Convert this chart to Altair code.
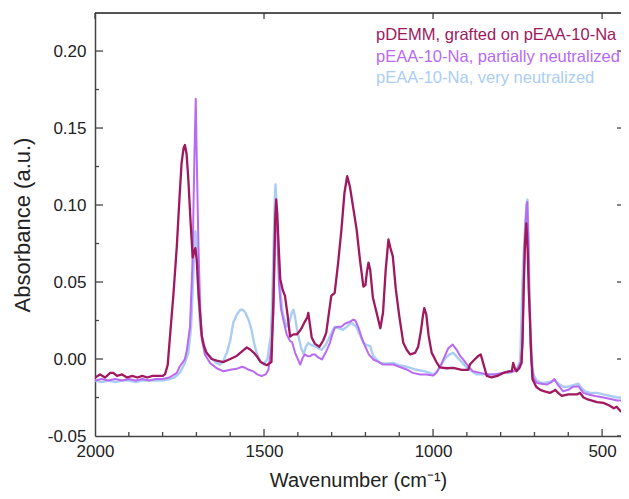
import altair as alt
import pandas as pd

# ---- data ----
dark_wn = [2000, 1985, 1970, 1955, 1946, 1935, 1920, 1905, 1890, 1875, 1860, 1845, 1830, 1815, 1800,
           1793, 1785, 1778, 1768, 1758, 1750, 1744, 1738, 1734, 1729, 1724, 1717, 1711, 1706, 1703,
           1699, 1693, 1684, 1677, 1670, 1655, 1640, 1621, 1600, 1581, 1565, 1551, 1540, 1530, 1522,
           1510, 1492, 1478, 1472, 1467, 1464, 1461, 1456, 1452, 1445, 1438, 1430, 1423, 1413, 1403,
           1395, 1389, 1380, 1372, 1369, 1364, 1359, 1350, 1336, 1325, 1316, 1308, 1301, 1291, 1281,
           1271, 1262, 1254, 1246, 1236, 1226, 1216, 1206, 1200, 1196, 1191, 1186, 1178, 1167, 1156,
           1148, 1140, 1132, 1126, 1119, 1110, 1100, 1088, 1078, 1068, 1053, 1044, 1036, 1030, 1026,
           1020, 1013, 1004, 999, 990, 980, 960, 940, 915, 896, 891, 880, 866, 859, 850, 841, 827,
           810, 792, 775, 767, 763, 758, 753, 745, 738, 735, 732, 728, 724, 720, 717, 714, 710, 706,
           695, 683, 670, 654, 645, 639, 630, 619, 600, 585, 575, 565, 555, 545, 530, 515, 496, 480,
           465, 457, 445, 435, 427, 420]
dark_abs = [-0.012, -0.010, -0.012, -0.009, -0.009, -0.011, -0.010, -0.012, -0.011, -0.012, -0.011,
            -0.012, -0.011, -0.011, -0.011, -0.010, -0.004, 0.015, 0.042, 0.073, 0.105, 0.127, 0.137,
            0.139, 0.133, 0.117, 0.088, 0.066, 0.070, 0.072, 0.064, 0.040, 0.015, 0.008, 0.004, 0.000,
            -0.001, -0.002, 0.000, 0.002, 0.005, 0.0075, 0.006, 0.004, 0.002, -0.002, -0.004, -0.002,
            0.040, 0.090, 0.1036, 0.095, 0.070, 0.052, 0.045, 0.041, 0.028, 0.0146, 0.016, 0.016,
            0.018, 0.020, 0.024, 0.027, 0.030, 0.022, 0.014, 0.010, 0.008, 0.012, 0.017, 0.030, 0.041,
            0.043, 0.062, 0.084, 0.108, 0.1187, 0.112, 0.098, 0.084, 0.064, 0.047, 0.048, 0.056,
            0.0626, 0.058, 0.040, 0.030, 0.020, 0.030, 0.058, 0.0776, 0.072, 0.0667, 0.045, 0.028,
            0.0105, 0.006, 0.003, 0.004, 0.008, 0.018, 0.028, 0.033, 0.029, 0.015, 0.004, 0.002,
            -0.002, -0.0055, -0.006, -0.0057, -0.007, -0.007, -0.0036, -0.001, 0.002, 0.003, -0.004,
            -0.011, -0.012, -0.011, -0.009, -0.008, -0.008, -0.0025, -0.006, -0.008, -0.006, -0.0025,
            0.015, 0.043, 0.075, 0.088, 0.070, 0.045, 0.030, 0.005, -0.013, -0.018, -0.020, -0.021,
            -0.022, -0.021, -0.020, -0.022, -0.024, -0.023, -0.023, -0.023, -0.022, -0.025, -0.026,
            -0.027, -0.028, -0.0285, -0.030, -0.032, -0.031, -0.034, -0.032, -0.033, -0.034]

purple_wn = [2000, 1980, 1960, 1940, 1920, 1900, 1880, 1860, 1840, 1820, 1800, 1780, 1765, 1758,
             1749, 1740, 1734, 1728, 1719, 1712, 1706, 1702, 1699, 1694, 1689, 1684, 1675, 1660,
             1640, 1620, 1600, 1581, 1565, 1556, 1545, 1532, 1520, 1507, 1495, 1487, 1478, 1472,
             1468, 1465, 1461, 1456, 1450, 1443, 1433, 1423, 1417, 1408, 1393, 1385, 1379, 1372,
             1364, 1356, 1349, 1340, 1329, 1318, 1305, 1298, 1291, 1281, 1271, 1260, 1248, 1236,
             1230, 1220, 1210, 1201, 1190, 1177, 1160, 1148, 1130, 1118, 1100, 1078, 1060, 1038,
             1020, 999, 990, 976, 965, 955, 942, 930, 920, 911, 895, 882, 860, 841, 820, 792, 775,
             763, 750, 740, 735, 732, 727, 723, 721, 718, 715, 712, 709, 703, 694, 680, 664, 650,
             641, 630, 615, 600, 585, 570, 562, 555, 540, 520, 496, 475, 455, 440, 427, 420]
purple_abs = [-0.014, -0.013, -0.014, -0.013, -0.014, -0.013, -0.014, -0.013, -0.014, -0.013,
              -0.013, -0.012, -0.010, -0.009, -0.0047, -0.002, 0.000, 0.006, 0.021, 0.060, 0.130,
              0.169, 0.130, 0.073, 0.035, 0.0127, 0.003, -0.0025, -0.006, -0.008, -0.007, -0.0064,
              -0.005, -0.0057, -0.007, -0.008, -0.010, -0.011, -0.010, -0.007, 0.008, 0.030, 0.075,
              0.100, 0.085, 0.050, 0.033, 0.0256, 0.016, 0.0116, 0.011, 0.004, -0.0036, 0.001, 0.003,
              0.002, 0.0018, 0.003, 0.003, 0.001, -0.0003, 0.004, 0.0105, 0.016, 0.020, 0.021, 0.021,
              0.023, 0.024, 0.0256, 0.025, 0.020, 0.013, 0.0083, 0.003, -0.0003, -0.002, -0.0036,
              -0.0035, -0.0036, -0.005, -0.0068, -0.009, -0.010, -0.010, -0.0107, -0.009, -0.0036,
              0.002, 0.007, 0.0094, 0.006, 0.002, -0.0003, -0.005, -0.008, -0.009, -0.010, -0.010,
              -0.009, -0.008, -0.008, -0.006, -0.002, 0.010, 0.052, 0.085, 0.100, 0.102, 0.075, 0.040,
              0.010, -0.0025, -0.012, -0.0155, -0.016, -0.0166, -0.015, -0.013, -0.017, -0.021,
              -0.020, -0.018, -0.0177, -0.020, -0.022, -0.023, -0.024, -0.025, -0.026, -0.027,
              -0.027, -0.028, -0.029]

blue_wn = [2000, 1980, 1960, 1940, 1920, 1900, 1880, 1860, 1840, 1820, 1800, 1780, 1765, 1749,
           1735, 1724, 1716, 1710, 1705, 1703, 1700, 1695, 1689, 1680, 1670, 1660, 1645, 1630, 1620,
           1610, 1600, 1591, 1580, 1570, 1563, 1555, 1545, 1537, 1530, 1522, 1512, 1502, 1490, 1480,
           1477, 1472, 1468, 1466, 1463, 1458, 1453, 1445, 1433, 1425, 1418, 1413, 1408, 1403, 1398,
           1390, 1383, 1376, 1369, 1360, 1349, 1340, 1329, 1318, 1305, 1298, 1291, 1280, 1266, 1255,
           1241, 1233, 1227, 1215, 1206, 1196, 1186, 1177, 1168, 1157, 1140, 1118, 1100, 1078, 1050,
           1024, 1010, 999, 988, 976, 965, 952, 940, 928, 915, 900, 885, 871, 850, 830, 810, 792,
           775, 760, 748, 742, 738, 734, 728, 724, 721, 718, 715, 711, 707, 703, 694, 685, 674, 660,
           650, 641, 630, 615, 600, 585, 570, 560, 550, 535, 515, 496, 475, 455, 440, 427, 420]
blue_abs = [-0.014, -0.015, -0.014, -0.015, -0.014, -0.014, -0.015, -0.014, -0.014, -0.014, -0.014,
            -0.013, -0.012, -0.009, -0.003, 0.004, 0.020, 0.050, 0.080, 0.083, 0.075, 0.045, 0.021,
            0.010, 0.004, 0.0018, -0.002, -0.0036, -0.001, 0.004, 0.012, 0.0235, 0.029, 0.032, 0.032,
            0.030, 0.025, 0.019, 0.011, 0.004, -0.001, -0.0036, 0.000, 0.015, 0.030, 0.070, 0.105,
            0.1133, 0.100, 0.070, 0.047, 0.030, 0.021, 0.024, 0.030, 0.032, 0.027, 0.020, 0.0148,
            0.007, 0.003, 0.008, 0.0105, 0.009, 0.0083, 0.007, 0.006, 0.009, 0.0148, 0.018, 0.021,
            0.020, 0.019, 0.021, 0.0235, 0.022, 0.021, 0.015, 0.0105, 0.009, 0.0083, 0.002, 0.000,
            -0.0025, -0.003, -0.0025, -0.004, -0.005, -0.007, -0.008, -0.009, -0.010, -0.008, -0.0036,
            0.000, 0.003, 0.004, 0.001, -0.002, -0.0057, -0.008, -0.010, -0.010, -0.010, -0.010,
            -0.009, -0.009, -0.008, -0.005, 0.000, 0.030, 0.060, 0.085, 0.100, 0.1035, 0.080, 0.045,
            0.015, -0.002, -0.010, -0.014, -0.015, -0.0155, -0.015, -0.0145, -0.0137, -0.016,
            -0.018, -0.018, -0.017, -0.016, -0.019, -0.021, -0.022, -0.022, -0.023, -0.024, -0.025,
            -0.025, -0.026, -0.027]

series_names = ["pDEMM, grafted on pEAA-10-Na",
                "pEAA-10-Na, partially neutralized",
                "pEAA-10-Na, very neutralized"]
series_colors = ["#a0185d", "#b86af2", "#aacdf4"]

x_major = [2000, 1500, 1000, 500]
x_minor = [1900, 1800, 1700, 1600, 1400, 1300, 1200, 1100, 900, 800, 700, 600]
y_major = [-0.05, 0.0, 0.05, 0.10, 0.15, 0.20]
y_minor = [-0.025, 0.025, 0.075, 0.125, 0.175]

# ---- layout / style ----
W, H = 526, 423
FONT = "Liberation Sans"
AXIS_COLOR = "#444444"
xscale = alt.Scale(domain=[2000, 444], nice=False, zero=False)
yscale = alt.Scale(domain=[-0.05, 0.2247], nice=False, zero=False)

x_axis = alt.Axis(values=x_major, format="d", ticks=False, grid=False, domain=True,
                  domainColor=AXIS_COLOR, domainWidth=1.5, labelFont=FONT, labelFontSize=17,
                  labelColor="#222222", labelPadding=7, labelFlush=False,
                  title="Wavenumber (cm⁻¹)", titleFont=FONT, titleFontSize=20,
                  titleFontWeight="normal", titleColor="#222222", titlePadding=11)
y_axis = alt.Axis(values=y_major, ticks=False, grid=False, domain=True, domainColor=AXIS_COLOR,
                  domainWidth=1.5, labelFont=FONT, labelFontSize=17, labelColor="#222222",
                  labelPadding=9, labelFlush=False,
                  labelExpr="(datum.value < -0.0001 ? '-' : '') + format(abs(datum.value), '.2f')",
                  title="Absorbance (a.u.)", titleFont=FONT, titleFontSize=22,
                  titleFontWeight="normal", titleColor="#222222", titlePadding=13)


def spectrum(wn, ab, color, width):
    df = pd.DataFrame({"wn": wn, "ab": ab})
    return alt.Chart(df).mark_line(color=color, strokeWidth=width, clip=True,
                                   strokeJoin="round").encode(
        x=alt.X("wn:Q", scale=xscale, axis=x_axis),
        y=alt.Y("ab:Q", scale=yscale, axis=y_axis),
    )


blue = spectrum(blue_wn, blue_abs, series_colors[2], 2.4)
purple = spectrum(purple_wn, purple_abs, series_colors[1], 2.0)
dark = spectrum(dark_wn, dark_abs, series_colors[0], 2.3)


# inward ticks (drawn through the same scales)
def xticks(vals, length, top=False):
    df = pd.DataFrame({"wn": vals})
    if top:
        yy = dict(y=alt.value(0), y2=alt.value(length))
    else:
        yy = dict(y=alt.value(H - length), y2=alt.value(H))
    return alt.Chart(df).mark_rule(color=AXIS_COLOR, strokeWidth=1.3).encode(
        x=alt.X("wn:Q", scale=xscale, axis=x_axis), **yy)


def yticks(vals, length, right=False):
    df = pd.DataFrame({"ab": vals})
    if right:
        xx = dict(x=alt.value(W - length), x2=alt.value(W))
    else:
        xx = dict(x=alt.value(0), x2=alt.value(length))
    return alt.Chart(df).mark_rule(color=AXIS_COLOR, strokeWidth=1.3).encode(
        y=alt.Y("ab:Q", scale=yscale, axis=y_axis), **xx)


top_frame = alt.Chart(pd.DataFrame({"a": [0]})).mark_rule(color="#222222", strokeWidth=1.5).encode(
    x=alt.value(0), x2=alt.value(W), y=alt.value(0))

legend_y = [22, 43.5, 65]
legend_layers = []
for name, col, ly in zip(series_names, series_colors, legend_y):
    legend_layers.append(
        alt.Chart(pd.DataFrame({"label": [name]})).mark_text(
            align="left", baseline="middle", font=FONT, fontSize=16.5, color=col).encode(
            text="label:N", x=alt.value(281), y=alt.value(ly)))

chart = alt.layer(
    blue, purple, dark,
    xticks(x_major[1:], 7), xticks(x_minor, 4), xticks(x_major, 6, top=True),
    yticks(y_major[1:], 8), yticks(y_minor, 4), yticks(y_major, 4, right=True),
    top_frame, *legend_layers
).properties(
    width=W, height=H,
    autosize=alt.AutoSizeParams(type="none"),
    padding={"left": 87, "top": 5, "right": 0, "bottom": 55}
).configure_view(stroke=None).configure(background="white")

chart.save("out.html", embed_options={"renderer": "svg", "actions": False})
